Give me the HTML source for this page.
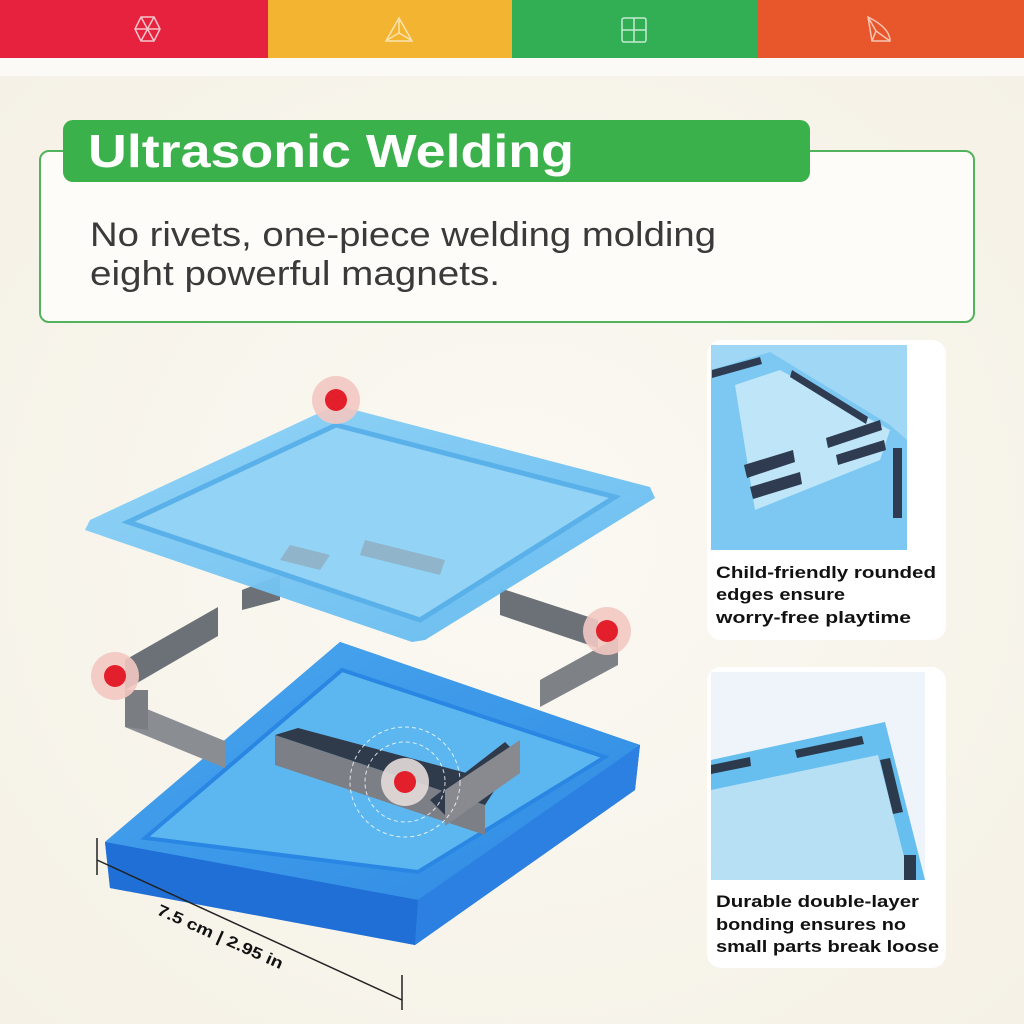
<!DOCTYPE html>
<html><head><meta charset="utf-8"><style>
html,body{margin:0;padding:0;width:1024px;height:1024px;overflow:hidden;background:#f8f5ee;font-family:"Liberation Sans",sans-serif}
svg{position:absolute;left:0;top:0}
</style></head><body>
<svg width="1024" height="1024" viewBox="0 0 1024 1024">
<defs>
<radialGradient id="bg" cx="0.5" cy="0.5" r="0.7"><stop offset="0" stop-color="#fbf9f3"/><stop offset="1" stop-color="#f5f1e6"/></radialGradient>
<linearGradient id="t1" x1="0" y1="0" x2="1" y2="1"><stop offset="0" stop-color="#8fd3f7"/><stop offset="1" stop-color="#5fb8ef"/></linearGradient>
<linearGradient id="t2" x1="0" y1="0" x2="1" y2="1"><stop offset="0" stop-color="#4aa7ee"/><stop offset="1" stop-color="#2f8ae3"/></linearGradient>
</defs>
<rect x="0" y="60" width="1024" height="964" fill="url(#bg)"/>
<rect x="0" y="58" width="1024" height="18" fill="#fbfaf7"/>
<rect x="0" y="0" width="268" height="58" fill="#e6223f"/>
<rect x="268" y="0" width="244" height="58" fill="#f3b431"/>
<rect x="512" y="0" width="245" height="58" fill="#32ae55"/>
<rect x="757" y="0" width="267" height="58" fill="#e8562c"/>
<g fill="none" stroke="#f6c5cc" stroke-width="1.5">
<polygon points="141,17 154,17 160,29 154,41 141,41 135,29"/><line x1="141" y1="17" x2="154" y2="41"/><line x1="154" y1="17" x2="141" y2="41"/><line x1="135" y1="29" x2="160" y2="29"/>
</g>
<g fill="none" stroke="#fbe3b0" stroke-width="1.5"><polygon points="399,18 386,41 412,41"/><polyline points="387,40 399,33 411,40"/><line x1="399" y1="18" x2="399" y2="33"/></g>
<g fill="none" stroke="#c4ecd0" stroke-width="1.5"><rect x="622" y="18" width="24" height="24" rx="2"/><line x1="634" y1="18" x2="634" y2="42"/><line x1="622" y1="30" x2="646" y2="30"/></g>
<g fill="none" stroke="#f8c6b4" stroke-width="1.5"><path d="M868,17 Q890,28 890,41 L872,41 Z"/><path d="M868,17 L876,31 L890,41 M876,31 L872,41"/></g>
<rect x="40" y="151" width="934" height="171" rx="9" fill="#fdfcf8" stroke="#52b35c" stroke-width="2"/>
<rect x="63" y="120" width="747" height="62" rx="10" fill="#3bb14b"/>
<text x="88" y="167" font-size="46" font-weight="bold" fill="#fff" textLength="486" lengthAdjust="spacingAndGlyphs">Ultrasonic Welding</text>
<text x="90" y="246" font-size="34" fill="#3a3a3a" textLength="626" lengthAdjust="spacingAndGlyphs">No rivets, one-piece welding molding</text>
<text x="90" y="285" font-size="34" fill="#3a3a3a" textLength="410" lengthAdjust="spacingAndGlyphs">eight powerful magnets.</text>
<rect x="707" y="340" width="239" height="300" rx="14" fill="#fff"/>
<rect x="711" y="345" width="196" height="205" fill="#9fd7f4"/>
<polygon points="711,370 770,352 890,425 907,440 907,550 711,550" fill="#7cc8f2"/>
<polygon points="735,385 780,370 890,430 880,460 755,510" fill="#bfe6f8"/>
<g fill="#2e3b50"><polygon points="712,370 760,357 762,364 712,378"/><polygon points="792,370 868,417 866,424 790,377"/><polygon points="744,465 793,450 795,462 747,478"/><polygon points="826,438 880,420 882,430 828,448"/><polygon points="750,487 800,472 802,484 753,499"/><polygon points="836,455 884,440 886,450 838,465"/><rect x="893" y="448" width="9" height="70"/></g>
<g font-size="16.5" font-weight="bold" fill="#111">
<text x="716" y="578" textLength="220" lengthAdjust="spacingAndGlyphs">Child-friendly rounded</text>
<text x="716" y="600" textLength="129" lengthAdjust="spacingAndGlyphs">edges ensure</text>
<text x="716" y="623" textLength="195" lengthAdjust="spacingAndGlyphs">worry-free playtime</text>
<text x="716" y="907" textLength="203" lengthAdjust="spacingAndGlyphs">Durable double-layer</text>
<text x="716" y="930" textLength="190" lengthAdjust="spacingAndGlyphs">bonding ensures no</text>
<text x="716" y="952" textLength="223" lengthAdjust="spacingAndGlyphs">small parts break loose</text>
</g>
<rect x="707" y="667" width="239" height="301" rx="14" fill="#fff" style="mix-blend-mode:normal" opacity="0"/>
<rect x="707" y="667" width="239" height="301" rx="14" fill="#fff"/>
<rect x="711" y="672" width="214" height="208" fill="#eef4f9"/>
<polygon points="711,760 885,722 925,880 711,880" fill="#67bff0"/>
<polygon points="711,790 878,755 910,880 711,880" fill="#b7e0f5"/>
<g fill="#2c3a4e"><polygon points="711,765 750,757 751,766 711,774"/><polygon points="795,750 862,736 864,744 797,758"/><polygon points="880,760 890,758 903,812 893,814"/><rect x="904" y="855" width="12" height="25"/></g>
<g font-size="16.5" font-weight="bold" fill="#111">
<text x="716" y="907" textLength="203" lengthAdjust="spacingAndGlyphs">Durable double-layer</text>
<text x="716" y="930" textLength="190" lengthAdjust="spacingAndGlyphs">bonding ensures no</text>
<text x="716" y="952" textLength="223" lengthAdjust="spacingAndGlyphs">small parts break loose</text>
</g>
<polygon points="105,842 340,642 640,745 635,790 415,945 110,888" fill="#2a7fe0"/>
<polygon points="105,842 340,642 640,745 418,900" fill="url(#t2)"/>
<polygon points="145,838 342,670 605,757 418,872" fill="#5cb6ef" stroke="#2a86e3" stroke-width="4"/>
<polygon points="110,888 105,842 418,900 415,945" fill="#1f6fd6"/>
<polygon points="418,900 640,745 635,790 415,945" fill="#2c80e2"/>
<g>
<polygon points="275,735 485,805 485,835 275,765" fill="#7c7f85"/>
<polygon points="275,735 298,728 500,782 485,805" fill="#2f3a4a"/>
<polygon points="430,800 505,742 520,757 445,815" fill="#2f3a4a"/>
<polygon points="445,790 520,740 520,773 445,826" fill="#888a8f"/>
<polygon points="125,700 225,741 225,768 125,727" fill="#8a8d92"/>
<polygon points="125,660 218,607 218,636 125,690" fill="#6c7077"/>
<polygon points="125,690 148,690 148,730 125,727" fill="#7a7d82"/>
<polygon points="500,588 598,620 598,648 500,615" fill="#6c7077"/>
<polygon points="540,680 618,637 618,665 540,707" fill="#7e8186"/>
<polygon points="242,590 280,575 280,600 242,610" fill="#6c7077"/>
</g>
<polygon points="336,405 650,487 655,498 425,640 412,642 85,530 90,520" fill="url(#t1)" opacity="0.95"/>
<polygon points="336,425 615,497 420,620 128,522" fill="#93d3f5" stroke="#5ab1ea" stroke-width="5"/>
<polygon points="290,545 330,555 320,570 280,560" fill="#8ea7b8" opacity="0.7"/>
<polygon points="365,540 445,560 440,575 360,555" fill="#8ea7b8" opacity="0.7"/>
<g fill="none" stroke="#fff" stroke-width="1" stroke-dasharray="4 3" opacity="0.8"><circle cx="405" cy="782" r="40"/><circle cx="405" cy="782" r="55"/></g>
<g><circle cx="336" cy="400" r="24" fill="#f3c8c2" opacity="0.9"/><circle cx="336" cy="400" r="11" fill="#e31f2b"/>
<circle cx="607" cy="631" r="24" fill="#f3c8c2" opacity="0.9"/><circle cx="607" cy="631" r="11" fill="#e31f2b"/>
<circle cx="115" cy="676" r="24" fill="#f3c8c2" opacity="0.9"/><circle cx="115" cy="676" r="11" fill="#e31f2b"/>
<circle cx="405" cy="782" r="24" fill="#e4ddda" opacity="0.9"/><circle cx="405" cy="782" r="11" fill="#e31f2b"/></g>
<line x1="97" y1="838" x2="97" y2="875" stroke="#222" stroke-width="1.5"/>
<line x1="97" y1="860" x2="402" y2="1000" stroke="#222" stroke-width="1.5"/>
<line x1="402" y1="975" x2="402" y2="1010" stroke="#222" stroke-width="1.5"/>
<text x="156" y="914" font-size="16" font-weight="bold" fill="#111" transform="rotate(24 156 914)" textLength="136" lengthAdjust="spacingAndGlyphs">7.5 cm | 2.95 in</text>
</svg>
</body></html>
